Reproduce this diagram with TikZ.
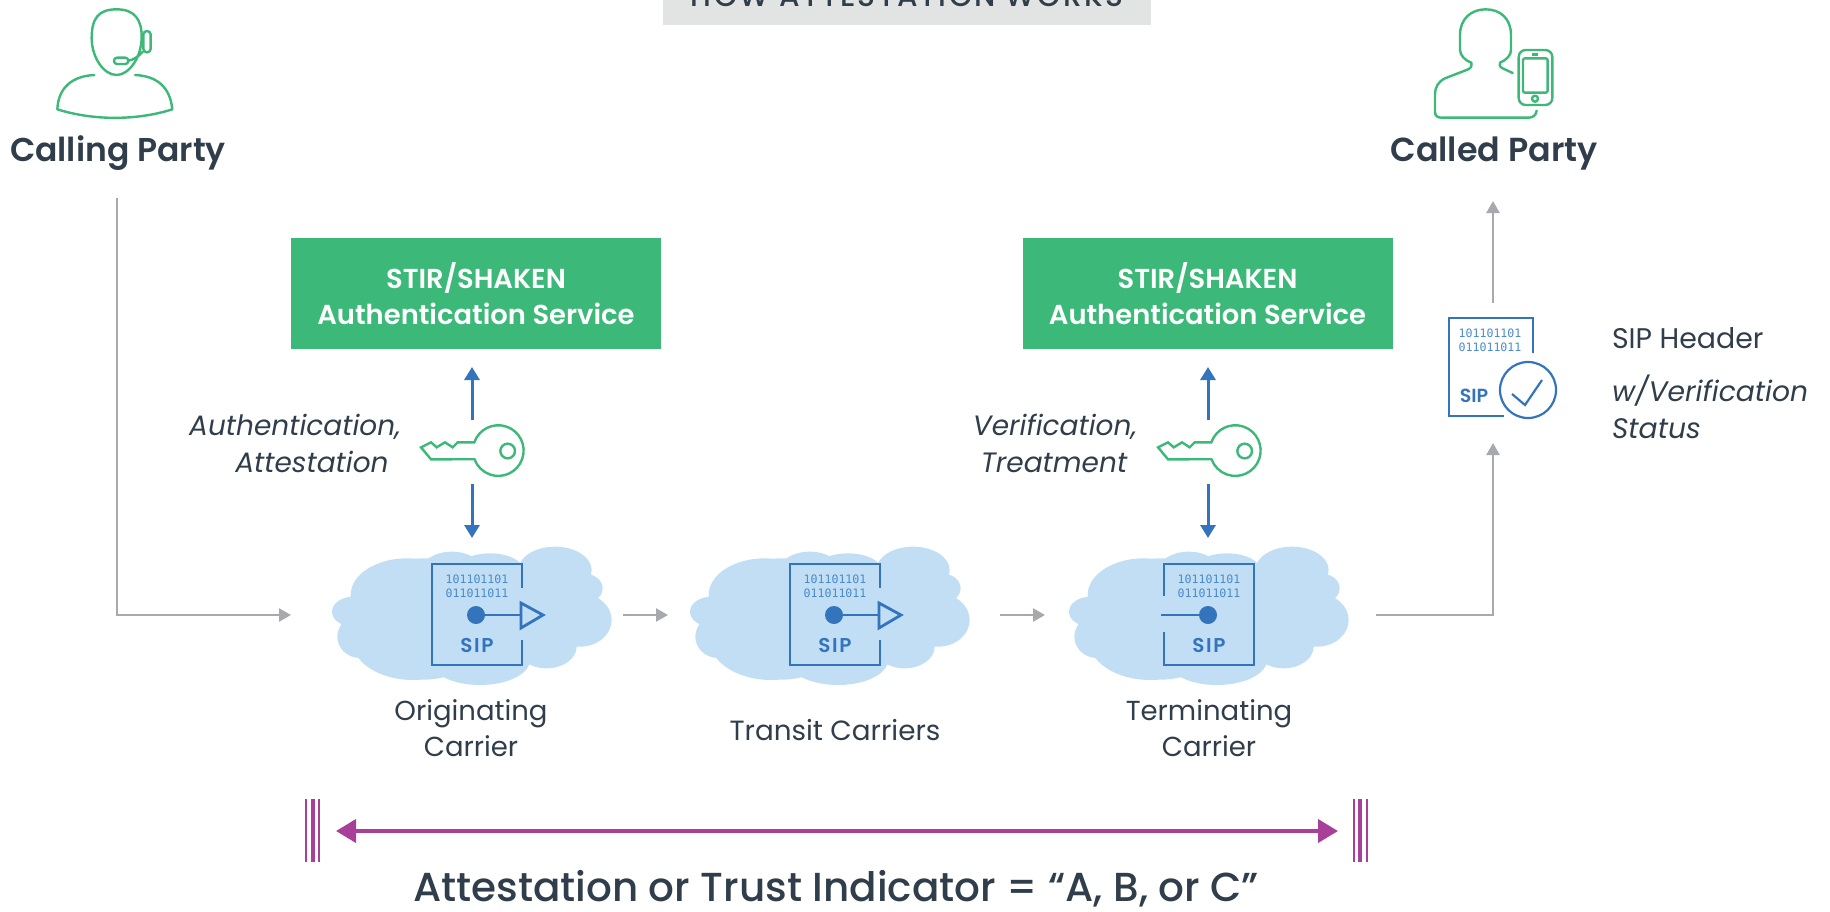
\documentclass[tikz,border=0pt]{standalone}
\usepackage{fontspec}
\setmainfont{Poppins}
\newfontfamily\binfont{DejaVu Sans Mono}
\newfontfamily\semi{Poppins SemiBold}
\newfontfamily\med{Poppins Medium}
\usetikzlibrary{arrows.meta}
\definecolor{ink}{HTML}{303E4B}
\definecolor{grn}{HTML}{3CB878}
\definecolor{blu}{HTML}{3374BC}
\definecolor{blulight}{HTML}{4A8BCB}
\definecolor{cloudc}{HTML}{C1DEF4}
\definecolor{gry}{HTML}{A7A9AC}
\definecolor{pur}{HTML}{A8409A}
\definecolor{bar}{HTML}{E2E4E3}
\newcommand{\fsz}[1]{\fontsize{#1}{#1}\selectfont}
\tikzset{
  lbl/.style={inner sep=0pt,outer sep=0pt,text=ink},
  icon/.style={draw=grn,line width=2.4pt,line join=round,line cap=round},
  doc/.style={draw=blu,line width=2.8pt,line cap=butt,line join=miter},
  grayarrow/.style={draw=gry,line width=2.4pt,-{Triangle[length=12pt,width=13pt,fill=gry]}},
  bluearrow/.style={draw=blu,line width=3pt,-{Triangle[length=13pt,width=15pt,fill=blu]}},
  purarrow/.style={draw=pur,line width=4pt,{Triangle[length=20pt,width=23pt,fill=pur]}-{Triangle[length=20pt,width=23pt,fill=pur]}},
  greenbox/.style={fill=grn,minimum width=370pt,minimum height=111pt,inner sep=0pt,align=center,text=white,font=\semi\fsz{27.4}},
  bintext/.style={inner sep=0pt,text=blulight,font=\binfont\fsz{11.6}},
  siptext/.style={inner sep=0pt,text=blu,font=\semi\fsz{20}}
}
\newcommand{\cloudat}[2]{%
  \begin{scope}[shift={(#1,#2)},scale=1/3]
    \fill[cloudc]
      (310,597) ellipse [x radius=215,y radius=182]
      (260,525) ellipse [x radius=168,y radius=110]
      (280,660) ellipse [x radius=185,y radius=120]
      (100,575) ellipse [x radius=64,y radius=45]
      (120,650) ellipse [x radius=68,y radius=64]
      (395,450) ellipse [x radius=90,y radius=55]
      (510,450) ellipse [x radius=100,y radius=50]
      (705,450) ellipse [x radius=110,y radius=70]
      (790,505) ellipse [x radius=58,y radius=45]
      (780,600) ellipse [x radius=95,y radius=80]
      (680,680) ellipse [x radius=90,y radius=65]
      (480,720) ellipse [x radius=150,y radius=75]
      (550,590) ellipse [x radius=260,y radius=130];
  \end{scope}}
\newcommand{\keyat}[2]{%
  \begin{scope}[shift={(#1,#2)},scale=1/3]
    \draw[icon,line cap=butt,line join=miter] (463,67) arc[start angle=-161,end angle=160,radius=76] -- (333,118) -- (303,82) -- (333,67) -- (350,82) -- (375,67) -- (398,82) -- (413,67) -- cycle;
    \draw[icon] (563,93) circle[radius=22];
  \end{scope}}
\begin{document}
\begin{tikzpicture}[x=1pt,y=-1pt]
\useasboundingbox (0,0) rectangle (1830,911);
\clip (0,0) rectangle (1830,911);

% title
\fill[bar] (663,-10) rectangle (1151,25);
\node[lbl,anchor=base,font=\med\fsz{29.5}\addfontfeature{LetterSpace=8}] (title) at (907,6.5) {HOW ATTESTATION WORKS};

% calling party icon
\begin{scope}[shift={(0,0)},scale=1/3]
  \draw[icon] (350,28) .. controls (295,28) and (275,55) .. (275,115) .. controls (275,170) and (310,225) .. (350,225) .. controls (385,225) and (425,175) .. (425,110) .. controls (425,60) and (405,28) .. (350,28) -- cycle;
  \draw[icon,rounded corners=3.5pt] (430,93) rectangle (452,157);
  \draw[icon,rounded corners=3pt] (342,173) rectangle (385,192);
  \draw[icon] (385,182) .. controls (400,180) and (415,170) .. (428,155);
  \draw[icon] (283,225) .. controls (220,228) and (175,260) .. (172,328) .. controls (280,362) and (410,362) .. (517,328) .. controls (510,260) and (470,228) .. (405,225);
\end{scope}
\node[lbl,anchor=base,font=\semi\fsz{33}] (calling) at (118,161) {Calling Party};

% called party icon
\begin{scope}[shift={(1380,0)},scale=1/3]
  \draw[icon] (398,219) -- (368,205) .. controls (358,200) and (358,195) .. (360,188) .. controls (380,180) and (393,165) .. (393,150) -- (393,105) .. controls (393,55) and (360,28) .. (317,28) .. controls (275,28) and (240,55) .. (240,105) -- (240,150) .. controls (240,165) and (255,182) .. (274,188) .. controls (276,200) and (272,205) .. (262,209) -- (195,235) .. controls (175,245) and (165,260) .. (165,285) -- (165,335) .. controls (165,348) and (172,353) .. (185,353) -- (445,353) .. controls (460,353) and (468,345) .. (470,332);
  \draw[icon,rounded corners=7pt] (416,150) rectangle (517,315);
  \draw[icon,rounded corners=2pt] (429,175) rectangle (503,278);
  \fill[grn] (456,159) rectangle (474,167);
  \draw[icon] (465,296) circle[radius=9];
\end{scope}
\node[lbl,anchor=base,font=\semi\fsz{33.3}] (called) at (1494,161) {Called Party};

% boxes
\node[greenbox] (auth1) at (476,293.5) {STIR/SHAKEN\\[8.6pt]Authentication Service};
\node[greenbox] (auth2) at (1207.5,293.5) {STIR/SHAKEN\\[8.6pt]Authentication Service};

% clouds
\cloudat{320}{420}
\cloudat{678}{420}
\cloudat{1057}{420}

% keys
\keyat{320}{420}
\keyat{1057}{420}

% labels beside keys
\node[lbl,anchor=base,font=\itshape\fsz{28}] (l1a) at (295,435) {Authentication,};
\node[lbl,anchor=base,font=\itshape\fsz{28}] (l1b) at (312,472) {Attestation};
\node[lbl,anchor=base,font=\itshape\fsz{28}] (l2a) at (1055,435) {Verification,};
\node[lbl,anchor=base,font=\itshape\fsz{28}] (l2b) at (1054,472) {Treatment};

% blue arrows
\coordinate (k1t) at (472,420); \coordinate (k1tt) at (472,367);
\coordinate (k1b) at (472,484); \coordinate (k1bb) at (472,538);
\coordinate (k2t) at (1208,420); \coordinate (k2tt) at (1208,367);
\coordinate (k2b) at (1208,484); \coordinate (k2bb) at (1208,538);
\draw[bluearrow] (k1t) -- (k1tt);
\draw[bluearrow] (k1b) -- (k1bb);
\draw[bluearrow] (k2t) -- (k2tt);
\draw[bluearrow] (k2b) -- (k2bb);

% SIP doc 1 and 2
\foreach \dx/\nm in {0/a,358/b}{
\begin{scope}[shift={(\dx,0)}]
  \draw[doc] (522,588) -- (522,564) -- (432,564) -- (432,665) -- (522,665) -- (522,640);
  \fill[blu] (476,615) circle[radius=9];
  \draw[doc] (476,615) -- (521,615);
  \draw[doc] (521,603) -- (543,615) -- (521,628) -- cycle;
  \node[bintext] (bin1\nm) at (477,579) {101101101};
  \node[bintext] (bin2\nm) at (477,593) {011011011};
  \node[siptext,font=\semi\fsz{20}\addfontfeature{LetterSpace=8}] (sip\nm) at (477,645) {SIP};
\end{scope}}
% SIP doc 3
\draw[doc] (1164,596) -- (1164,564) -- (1254,564) -- (1254,665) -- (1164,665) -- (1164,632);
\fill[blu] (1208,615) circle[radius=9];
\draw[doc] (1161,615) -- (1208,615);
\node[bintext] (bin1c) at (1209,579) {101101101};
\node[bintext] (bin2c) at (1209,593) {011011011};
\node[siptext,font=\semi\fsz{20}\addfontfeature{LetterSpace=8}] (sipc) at (1209,645) {SIP};

% carriers
\node[lbl,anchor=base,font=\fsz{27.5}] (o1) at (471,720.5) {Originating};
\node[lbl,anchor=base,font=\fsz{27.5}] (o2) at (471,756) {Carrier};
\node[lbl,anchor=base,font=\fsz{27.8}] (tr) at (835,740) {Transit Carriers};
\node[lbl,anchor=base,font=\fsz{27.5}] (t1) at (1209,720.5) {Terminating};
\node[lbl,anchor=base,font=\fsz{27.5}] (t2) at (1209,756) {Carrier};

% gray connectors
\coordinate (g0) at (117,198); \coordinate (g0m) at (117,615); \coordinate (g0e) at (291,615);
\coordinate (g1) at (623,615); \coordinate (g1e) at (668,615);
\coordinate (g2) at (1000,615); \coordinate (g2e) at (1045,615);
\coordinate (g3) at (1376,615); \coordinate (g3m) at (1493,615); \coordinate (g3e) at (1493,443);
\coordinate (g4) at (1493,303); \coordinate (g4e) at (1493,201);
\draw[grayarrow] (g0) -- (g0m) -- (g0e);
\draw[grayarrow] (g1) -- (g1e);
\draw[grayarrow] (g2) -- (g2e);
\draw[grayarrow] (g3) -- (g3m) -- (g3e);
\draw[grayarrow] (g4) -- (g4e);

% SIP header icon
\draw[doc] (1533,353) -- (1533,318) -- (1449,318) -- (1449,416) -- (1504,416);
\draw[blu,line width=2.2pt] (1528,390) circle[radius=28];
\draw[blu,line width=2.2pt] (1512,394) -- (1525,405) -- (1542,380);
\node[bintext] (bin1d) at (1490,333) {101101101};
\node[bintext] (bin2d) at (1490,347) {011011011};
\node[siptext,font=\semi\fsz{19}] (sipd) at (1474,396) {SIP};

\node[lbl,anchor=base west,font=\fsz{28.4}] (h1) at (1612,348) {SIP Header};
\node[lbl,anchor=base west,font=\itshape\fsz{28.2}] (h2) at (1612,401) {w/Verification};
\node[lbl,anchor=base west,font=\itshape\fsz{28.2}] (h3) at (1612,438) {Status};

% attestation bar
\foreach \x/\w in {306/2,313/4,319/2,1354/2,1360/4,1367/2}{\fill[pur] (\x-\w/2,799) rectangle (\x+\w/2,862);}
\coordinate (pl) at (336,831); \coordinate (pr) at (1338,831);
\draw[purarrow] (pl) -- (pr);
\node[lbl,anchor=base,font=\med\fsz{40.5}] (att) at (836,901.5) {Attestation or Trust Indicator = “A, B, or C”};
\end{tikzpicture}
\end{document}
